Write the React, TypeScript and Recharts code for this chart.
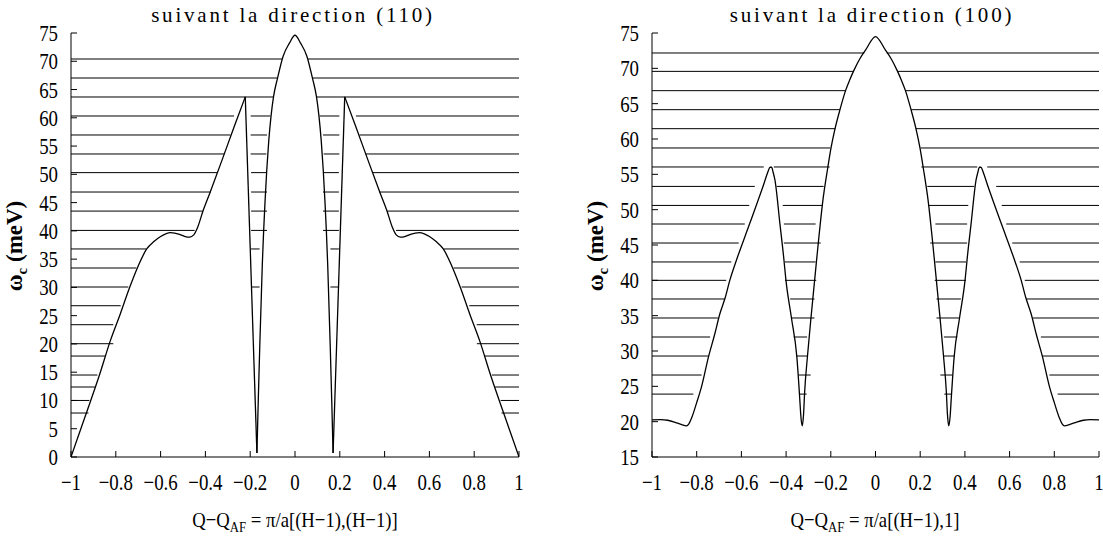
import React from 'react';
import { LineChart, Line, XAxis, YAxis, ReferenceLine } from 'recharts';

// ---------- axes ----------
const xTicks = [-1, -0.8, -0.6, -0.4, -0.2, 0, 0.2, 0.4, 0.6, 0.8, 1];
const yTicks110 = [0, 5, 10, 15, 20, 25, 30, 35, 40, 45, 50, 55, 60, 65, 70, 75];
const yTicks100 = [15, 20, 25, 30, 35, 40, 45, 50, 55, 60, 65, 70, 75];

// ---------- panel (110): dispersion curve, by branch ----------
const outer110LX = [-1, -0.933, -0.873, -0.825, -0.78, -0.74, -0.7, -0.662, -0.63, -0.6, -0.556, -0.515, -0.49, -0.47, -0.452, -0.435, -0.41, -0.38, -0.325, -0.27, -0.222];
const outer110LY = [0, 7.6, 14.5, 20.5, 25.3, 29.8, 33.8, 36.8, 38.1, 39.0, 39.7, 39.4, 39.0, 38.9, 39.3, 40.6, 43.6, 46.7, 52.6, 58.6, 63.7];
const spike110LX = [-0.222, -0.17];
const spike110LY = [63.7, 0.7];
const central110X = [-0.17, -0.164, -0.157, -0.146, -0.14, -0.134, -0.126, -0.117, -0.107, -0.096, -0.078, -0.053, -0.025, 0, 0.025, 0.053, 0.078, 0.096, 0.107, 0.117, 0.126, 0.134, 0.14, 0.146, 0.157, 0.164, 0.17];
const central110Y = [0.7, 10, 20, 34, 40, 45, 50.8, 56, 60.3, 63.7, 67, 70.9, 73.2, 74.6, 73.2, 70.9, 67, 63.7, 60.3, 56, 50.8, 45, 40, 34, 20, 10, 0.7];
const spike110RX = [0.17, 0.222];
const spike110RY = [0.7, 63.7];
const outer110RX = [0.222, 0.27, 0.325, 0.38, 0.41, 0.435, 0.452, 0.47, 0.49, 0.515, 0.556, 0.6, 0.63, 0.662, 0.7, 0.74, 0.78, 0.825, 0.873, 0.933, 1];
const outer110RY = [63.7, 58.6, 52.6, 46.7, 43.6, 40.6, 39.3, 38.9, 39.0, 39.4, 39.7, 39.0, 38.1, 36.8, 33.8, 29.8, 25.3, 20.5, 14.5, 7.6, 0];

// ---------- panel (110): levels and their drawn x-ranges ----------
const levels110 = [
  70.4, 67.04, 63.68, 60.32, 56.96, 53.6, 50.3, 46.87, 43.5, 40.08, 36.8,
  33.43, 30.07, 26.76, 23.4, 20.04, 17.86, 14.5, 12.38, 10.0, 7.78,
];
const segments110: number[][][] = [
  [[-1, -0.058], [0.058, 1]],
  [[-1, -0.078], [0.078, 1]],
  [[-1, -0.095], [0.095, 1]],
  [[-1, -0.272], [-0.198, -0.11], [0.11, 0.198], [0.272, 1]],
  [[-1, -0.288], [-0.198, -0.125], [0.125, 0.198], [0.288, 1]],
  [[-1, -0.315], [-0.198, -0.128], [0.128, 0.198], [0.315, 1]],
  [[-1, -0.348], [-0.196, -0.125], [0.125, 0.196], [0.348, 1]],
  [[-1, -0.376], [-0.196, -0.125], [0.125, 0.196], [0.376, 1]],
  [[-1, -0.412], [-0.196, -0.125], [0.125, 0.196], [0.412, 1]],
  [[-1, -0.448], [-0.196, -0.125], [0.125, 0.196], [0.451, 1]],
  [[-1, -0.665], [-0.196, -0.158], [0.158, 0.196], [0.665, 1]],
  [[-1, -0.708], [0.708, 1]],
  [[-1, -0.744], [-0.193, -0.158], [0.158, 0.193], [0.744, 1]],
  [[-1, -0.778], [0.778, 1]],
  [[-1, -0.811], [0.811, 1]],
  [[-1, -0.811], [0.812, 1]],
  [[-1, -0.848], [0.845, 1]],
  [[-1, -0.882], [0.879, 1]],
  [[-1, -0.893], [0.893, 1]],
  [[-1, -0.918], [0.918, 1]],
  [[-1, -0.922], [0.922, 1]],
];

// ---------- panel (100): dispersion curve ----------
const curve100X = [
  -1, -0.96, -0.93, -0.9, -0.87, -0.845, -0.835, -0.822, -0.8, -0.778, -0.747, -0.72, -0.696, -0.672,
  -0.651, -0.625, -0.562, -0.5, -0.482, -0.472, -0.465, -0.458, -0.45, -0.428, -0.41, -0.401, -0.376,
  -0.352, -0.339, -0.334, -0.328, -0.322, -0.317, -0.304, -0.289, -0.277, -0.265, -0.254, -0.237,
  -0.213, -0.199, -0.181, -0.159, -0.134, -0.115, -0.096, -0.07, -0.044, 0,
  0.044, 0.07, 0.096, 0.115, 0.134, 0.159, 0.181, 0.199, 0.213, 0.237, 0.254, 0.265, 0.277, 0.289,
  0.304, 0.317, 0.322, 0.328, 0.334, 0.339, 0.352, 0.376, 0.401, 0.41, 0.428, 0.45, 0.458, 0.465,
  0.472, 0.482, 0.5, 0.562, 0.625, 0.651, 0.672, 0.696, 0.72, 0.747, 0.778, 0.8, 0.822, 0.835, 0.845,
  0.87, 0.9, 0.93, 0.96, 1,
];
const curve100Y = [
  20.25, 20.3, 20.2, 19.95, 19.6, 19.4, 19.7, 20.6, 22.7, 25.0, 29.2, 32.3, 35.3, 37.6,
  40.1, 42.6, 48.1, 53.6, 55.3, 56.0, 56.0, 55.3, 54.2, 48.1, 43.0, 40.1, 34.67,
  29.2, 23.3, 20.8, 19.4, 21.0, 24.2, 29.4, 34.6, 38.5, 42.4, 45.9, 50.9,
  56.04, 58.73, 61.46, 64.15, 66.84, 68.4, 69.75, 71.35, 72.6, 74.5,
  72.6, 71.35, 69.75, 68.4, 66.84, 64.15, 61.46, 58.73, 56.04, 50.9, 45.9, 42.4, 38.5, 34.6,
  29.4, 24.2, 21.0, 19.4, 20.8, 23.3, 29.2, 34.67, 40.1, 43.0, 48.1, 54.2, 55.3, 56.0,
  56.0, 55.3, 53.6, 48.1, 42.6, 40.1, 37.6, 35.3, 32.3, 29.2, 25.0, 22.7, 20.6, 19.7, 19.4,
  19.6, 19.95, 20.2, 20.3, 20.25,
];

// ---------- panel (100): levels and their drawn x-ranges ----------
const levels100 = [
  72.17, 69.57, 66.84, 64.15, 61.46, 58.73, 56.04, 53.29, 50.6, 47.97,
  45.28, 42.6, 40.0, 37.36, 34.67, 31.98, 29.29, 26.6, 23.9,
];
const segments100: number[][][] = [
  [[-1, -0.05], [0.05, 1]],
  [[-1, -0.098], [0.098, 1]],
  [[-1, -0.134], [0.134, 1]],
  [[-1, -0.159], [0.159, 1]],
  [[-1, -0.18], [0.18, 1]],
  [[-1, -0.202], [0.202, 1]],
  [[-1, -0.5], [-0.455, -0.205], [0.205, 0.455], [0.5, 1]],
  [[-1, -0.54], [-0.442, -0.232], [0.232, 0.442], [0.54, 1]],
  [[-1, -0.565], [-0.415, -0.238], [0.238, 0.415], [0.565, 1]],
  [[-1, -0.585], [-0.41, -0.268], [0.268, 0.41], [0.585, 1]],
  [[-1, -0.612], [-0.41, -0.245], [0.245, 0.41], [0.612, 1]],
  [[-1, -0.645], [-0.405, -0.268], [0.268, 0.405], [0.645, 1]],
  [[-1, -0.668], [-0.405, -0.265], [0.265, 0.405], [0.668, 1]],
  [[-1, -0.675], [-0.382, -0.273], [0.273, 0.382], [0.675, 1]],
  [[-1, -0.705], [-0.378, -0.273], [0.273, 0.378], [0.705, 1]],
  [[-1, -0.74], [-0.366, -0.306], [0.306, 0.366], [0.74, 1]],
  [[-1, -0.745], [-0.355, -0.306], [0.306, 0.355], [0.745, 1]],
  [[-1, -0.778], [-0.344, -0.29], [0.29, 0.344], [0.778, 1]],
  [[-1, -0.815], [-0.34, -0.308], [0.308, 0.34], [0.815, 1]],
];

// ---------- text ----------
const title110 = 'suivant la direction (110)';
const title100 = 'suivant la direction (100)';
const xLabel110 = ' = \u03c0/a[(H\u22121),(H\u22121)]';
const xLabel100 = ' = \u03c0/a[(H\u22121),1]';

const SERIF = '"Liberation Serif", "Times New Roman", serif';
const TICK_LEN = 6;

const fmt = (v: number) => (v < 0 ? '\u2212' + String(Math.abs(v)) : String(v));
const toPoints = (xs: number[], ys: number[]) => xs.map((x, i) => ({ x, y: ys[i] }));

// bottom axis: inward tick + condensed label
const BottomTick = (props: any) => {
  const { x, y, payload } = props;
  return (
    <g>
      <line x1={x} x2={x} y1={y} y2={y - TICK_LEN} stroke="#000" strokeWidth={1} />
      <text
        transform={`translate(${x},${y + 33}) scale(0.82,1)`}
        textAnchor="middle"
        fontFamily={SERIF}
        fontSize={23}
        fill="#000"
      >
        {fmt(payload.value)}
      </text>
    </g>
  );
};

// left axis: inward tick + condensed label
const LeftTick = (props: any) => {
  const { x, y, payload } = props;
  return (
    <g>
      <line x1={x} x2={x + TICK_LEN} y1={y} y2={y} stroke="#000" strokeWidth={1} />
      <text
        transform={`translate(${x - 13},${y + 8}) scale(0.82,1)`}
        textAnchor="end"
        fontFamily={SERIF}
        fontSize={23}
        fill="#000"
      >
        {fmt(payload.value)}
      </text>
    </g>
  );
};

// mirrored inward ticks on top and right borders
const TopTick = (props: any) => {
  const { x, y } = props;
  return <line x1={x} x2={x} y1={y} y2={y + TICK_LEN} stroke="#000" strokeWidth={1} />;
};
const RightTick = (props: any) => {
  const { x, y } = props;
  return <line x1={x} x2={x - TICK_LEN} y1={y} y2={y} stroke="#000" strokeWidth={1} />;
};

type Branch = { xs: number[]; ys: number[]; curve: 'linear' | 'monotoneX' };

type PanelProps = {
  branches: Branch[];
  levels: number[];
  segs: number[][][];
  yTicks: number[];
  yDomain: [number, number];
  width: number;
  yAxisWidth: number;
  marginRight: number;
};

function Panel({ branches, levels, segs, yTicks, yDomain, width, yAxisWidth, marginRight }: PanelProps) {
  const axisStroke = { stroke: '#000', strokeWidth: 1 };
  return (
    <LineChart
      width={width}
      height={538}
      margin={{ top: 33, right: marginRight, bottom: 0, left: 0 }}
    >
      <XAxis
        dataKey="x"
        type="number"
        domain={[-1, 1]}
        ticks={xTicks}
        interval={0}
        height={81}
        tickSize={0}
        tickMargin={0}
        tickLine={false}
        tick={(p: any) => <BottomTick {...p} />}
        axisLine={axisStroke}
        allowDataOverflow
      />
      <XAxis
        xAxisId="top"
        orientation="top"
        type="number"
        domain={[-1, 1]}
        ticks={xTicks}
        interval={0}
        height={0}
        tickSize={0}
        tickMargin={0}
        tickLine={false}
        tick={(p: any) => <TopTick {...p} />}
        axisLine={axisStroke}
        allowDataOverflow
      />
      <YAxis
        type="number"
        domain={yDomain}
        ticks={yTicks}
        interval={0}
        width={yAxisWidth}
        tickSize={0}
        tickMargin={0}
        tickLine={false}
        tick={(p: any) => <LeftTick {...p} />}
        axisLine={axisStroke}
        allowDataOverflow
      />
      <YAxis
        yAxisId="right"
        orientation="right"
        type="number"
        domain={yDomain}
        ticks={yTicks}
        interval={0}
        width={0}
        tickSize={0}
        tickMargin={0}
        tickLine={false}
        tick={(p: any) => <RightTick {...p} />}
        axisLine={axisStroke}
        allowDataOverflow
      />
      {levels.map((lv, i) =>
        segs[i].map((s, j) => (
          <ReferenceLine
            key={`lv-${i}-${j}`}
            segment={[
              { x: s[0], y: lv },
              { x: s[1], y: lv },
            ]}
            stroke="#000"
            strokeWidth={1}
          />
        ))
      )}
      {branches.map((b, i) => (
        <Line
          key={`br-${i}`}
          data={toPoints(b.xs, b.ys)}
          dataKey="y"
          type={b.curve}
          dot={false}
          activeDot={false}
          stroke="#000"
          strokeWidth={1.3}
          isAnimationActive={false}
        />
      ))}
    </LineChart>
  );
}

function YLabel({ x, y }: { x: number; y: number }) {
  return (
    <text
      transform={`translate(${x},${y}) rotate(-90)`}
      textAnchor="middle"
      fontFamily={SERIF}
      fontWeight="bold"
      fontSize={23}
      fill="#000"
    >
      {'\u03c9'}
      <tspan dy={5} fontSize={15}>c</tspan>
      <tspan dy={-5}>{' (meV)'}</tspan>
    </text>
  );
}

function XLabel({ x, y, rest }: { x: number; y: number; rest: string }) {
  return (
    <text
      transform={`translate(${x},${y}) scale(0.85,1)`}
      textAnchor="middle"
      fontFamily={SERIF}
      fontSize={22}
      fill="#000"
    >
      {'Q\u2212Q'}
      <tspan dy={5} fontSize={15}>AF</tspan>
      <tspan dy={-5}>{rest}</tspan>
    </text>
  );
}

const branches110: Branch[] = [
  { xs: outer110LX, ys: outer110LY, curve: 'monotoneX' },
  { xs: spike110LX, ys: spike110LY, curve: 'linear' },
  { xs: central110X, ys: central110Y, curve: 'monotoneX' },
  { xs: spike110RX, ys: spike110RY, curve: 'linear' },
  { xs: outer110RX, ys: outer110RY, curve: 'monotoneX' },
];
const branches100: Branch[] = [{ xs: curve100X, ys: curve100Y, curve: 'monotoneX' }];

export default function App() {
  return (
    <div style={{ position: 'absolute', left: 0, top: 0, width: 1103, height: 538, background: '#fff' }}>
      <div style={{ position: 'absolute', left: 0, top: 0 }}>
        <Panel
          branches={branches110}
          levels={levels110}
          segs={segments110}
          yTicks={yTicks110}
          yDomain={[0, 75]}
          width={540}
          yAxisWidth={71}
          marginRight={21}
        />
      </div>
      <div style={{ position: 'absolute', left: 560, top: 0 }}>
        <Panel
          branches={branches100}
          levels={levels100}
          segs={segments100}
          yTicks={yTicks100}
          yDomain={[15, 75]}
          width={543}
          yAxisWidth={92}
          marginRight={4}
        />
      </div>
      <svg
        width={1103}
        height={538}
        style={{ position: 'absolute', left: 0, top: 0, pointerEvents: 'none' }}
      >
        <text x={293} y={22} textAnchor="middle" fontFamily={SERIF} fontSize={21} letterSpacing={2.8} fill="#000">
          {title110}
        </text>
        <text x={872} y={22} textAnchor="middle" fontFamily={SERIF} fontSize={21} letterSpacing={2.8} fill="#000">
          {title100}
        </text>
        <YLabel x={22} y={246} />
        <YLabel x={603} y={246} />
        <XLabel x={295} y={527} rest={xLabel110} />
        <XLabel x={875} y={527} rest={xLabel100} />
      </svg>
    </div>
  );
}
